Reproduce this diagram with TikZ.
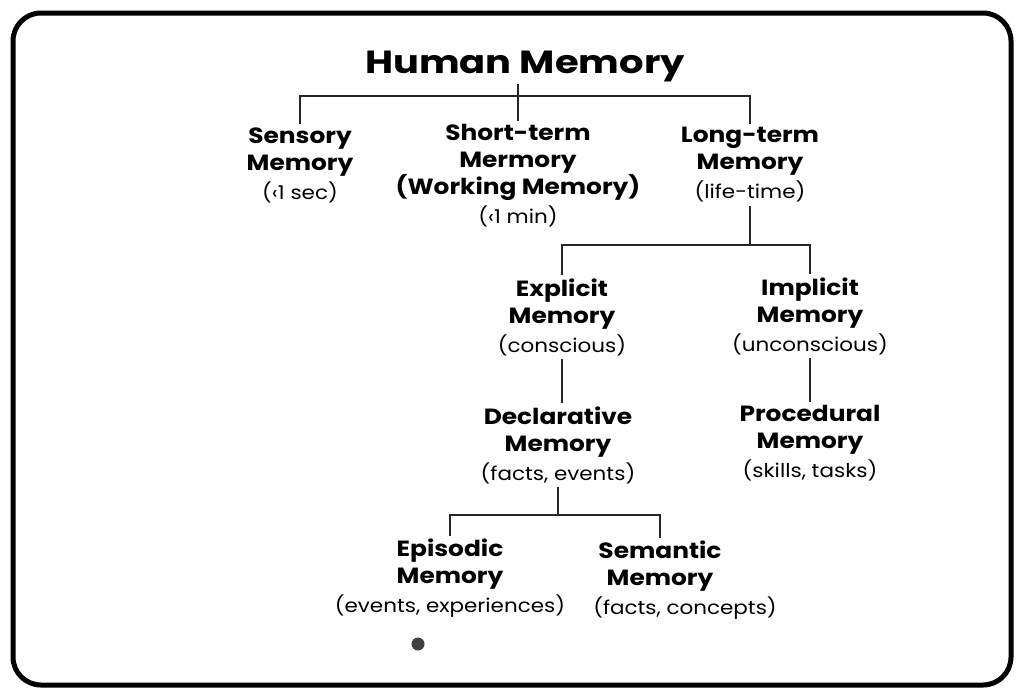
\documentclass[tikz,border=0pt]{standalone}
\usepackage{fontspec}
\setmainfont{Poppins}[FakeStretch=1.13]
\newfontfamily\titlefont{Poppins}[FakeStretch=1.2]
\usetikzlibrary{calc}
\def\memnote#1{\\[2pt]{\mdseries\fontsize{19}{24}\selectfont #1}}

\begin{document}
\begin{tikzpicture}[x=1pt, y=-1pt,
		memory/.style={align=center, inner sep=3pt, font=\bfseries\fontsize{22}{27}\selectfont},
		branch/.style={line width=1.3pt, color=black!85}]
			%%%%% START %%%%%
			
			\useasboundingbox (0, 0) rectangle (1024, 699);
			\draw[line width=5pt, rounded corners=28pt] (13, 13) rectangle (1011, 685);
			
			\node[font=\titlefont\bfseries\fontsize{32}{36}\selectfont, inner sep=1pt] (human) at (525, 67) {Human Memory};
			
			\node[memory] (sensory) at (300, 165) {Sensory\\Memory\memnote{(‹1 sec)}};
			\node[memory] (shortterm) at (518, 176) {Short-term\\Mermory\\(Working Memory)\memnote{(‹1 min)}};
			\node[memory] (longterm) at (750, 165) {Long-term\\Memory\memnote{(life-time)}};
			
			\coordinate (topbar) at (517, 96);
			\draw[branch] (shortterm.north) -- (shortterm.north |- human.south);
			\draw[branch] (sensory.north) |- (topbar) -| (longterm.north);
			
			\node[memory] (explicit) at (562, 317) {Explicit\\Memory\memnote{(conscious)}};
			\node[memory] (implicit) at (810, 316) {Implicit\\Memory\memnote{(unconscious)}};
			
			\coordinate (ltbar) at (752, 245);
			\draw[branch] (longterm.south) -- (longterm.south |- ltbar);
			\draw[branch] (explicit.north) |- (ltbar) -| (implicit.north);
			
			\node[memory] (declarative) at (558, 445) {Declarative\\Memory\memnote{(facts, events)}};
			\node[memory] (procedural) at (810, 443) {Procedural\\Memory\memnote{(skills, tasks)}};
			
			\draw[branch] (explicit.south) -- (explicit.south |- declarative.north);
			\draw[branch] (implicit.south) -- (implicit.south |- procedural.north);
			
			\node[memory] (episodic) at (450, 578) {Episodic\\Memory\memnote{(events, experiences)}};
			\node[memory] (semantic) at (660, 580) {Semantic\\Memory\memnote{\hspace*{50pt}(facts, concepts)}};
			
			\coordinate (declbar) at (562, 515);
			\draw[branch] (declarative.south) -- (declarative.south |- declbar);
			\draw[branch] (episodic.north) |- (declbar) -| (semantic.north);
			
			\fill[black!75] (418, 644) circle (6.5);
			
			%%%%% END %%%%%
		\end{tikzpicture}
\end{document}
